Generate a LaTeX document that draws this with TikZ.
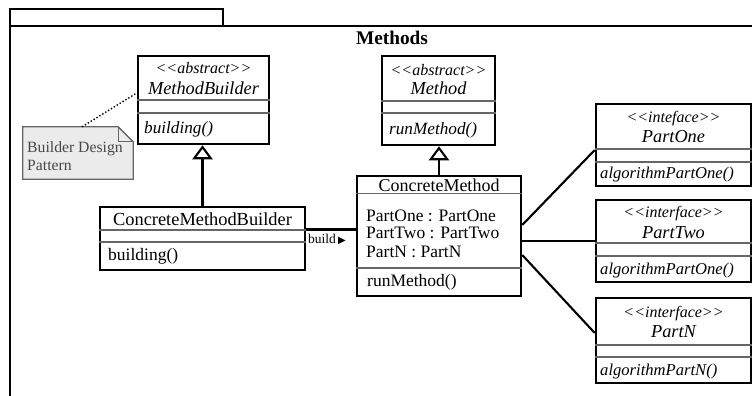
\documentclass[tikz,border=0pt]{standalone}
\usepackage{fontspec}
\setmainfont{Liberation Serif}
\newfontfamily\symfont{DejaVu Sans}
\usetikzlibrary{arrows.meta}

\tikzset{
  classbox/.style={draw, line width=2.5pt, inner sep=0pt},
  divider/.style={draw=black!60, line width=1.3pt},
  lbl/.style={anchor=base, inner sep=0pt, font=\fontsize{17.5}{20}\selectfont},
  lbll/.style={lbl, anchor=base west},
  stereo/.style={anchor=base, inner sep=0pt, font=\fontsize{16}{18}\selectfont\itshape},
  iname/.style={anchor=base, inner sep=0pt, font=\fontsize{18.3}{20}\selectfont\itshape},
  iop/.style={anchor=base west, inner sep=0pt, font=\fontsize{17.2}{20}\selectfont\itshape},
  iopsmall/.style={iop, font=\fontsize{16.6}{20}\selectfont\itshape},
  notetext/.style={anchor=base west, inner sep=0pt, text=black!72, font=\fontsize{15.7}{18}\selectfont},
  link/.style={line width=2.1pt},
  inherit/.style={line width=2.1pt, -{Triangle[open, length=14pt, width=20pt]}},
}

\begin{document}
\begin{tikzpicture}[x=1pt,y=-1pt]
\useasboundingbox (0,0) rectangle (752,396);

% package frame with its tab
\draw[line width=2.3pt] (10,26) -- (10,9) -- (223,9) -- (223,26);
\draw[line width=2.3pt] (10,398) -- (10,26) -- (754,26);
\node[anchor=base, inner sep=0pt, font=\fontsize{19.3}{21}\selectfont\bfseries] (title) at (392,45) {Methods};

% abstract MethodBuilder
\node[classbox, minimum width=131pt, minimum height=88pt] (mb) at (203.5,100) {};
\draw[divider] (mb.west |- 0,100) -- (mb.east |- 0,100);
\draw[divider] (mb.west |- 0,113) -- (mb.east |- 0,113);
\node[stereo] (mbs) at (203.5,74) {<{}<abstract>{}>};
\node[iname] (mbn) at (203.5,95) {MethodBuilder};
\node[iop] (mbo) at (144,133) {building()};

% abstract Method
\node[classbox, minimum width=113pt, minimum height=89pt] (m) at (438.5,100.5) {};
\draw[divider] (m.west |- 0,101) -- (m.east |- 0,101);
\draw[divider] (m.west |- 0,113) -- (m.east |- 0,113);
\node[stereo] (ms) at (438.5,75) {<{}<abstract>{}>};
\node[iname] (mn) at (438.5,95) {Method};
\node[iop] (mo) at (389,134) {runMethod()};

% ConcreteMethodBuilder
\node[classbox, minimum width=205pt, minimum height=63pt] (cmb) at (202.5,238.5) {};
\draw[divider] (cmb.west |- 0,230) -- (cmb.east |- 0,230);
\draw[divider] (cmb.west |- 0,242) -- (cmb.east |- 0,242);
\node[lbl, font=\fontsize{18.4}{20}\selectfont] (cmbn) at (202.5,225) {ConcreteMethodBuilder};
\node[lbll] (cmbo) at (108,260) {building()};

% ConcreteMethod
\node[classbox, minimum width=164pt, minimum height=120pt] (cm) at (439,236) {};
\draw[divider] (cm.west |- 0,193.5) -- (cm.east |- 0,193.5);
\draw[divider] (cm.west |- 0,268) -- (cm.east |- 0,268);
\node[lbl, font=\fontsize{18}{20}\selectfont] (cmn) at (439,191) {ConcreteMethod};
\node[lbll] (cma) at (366,221) {PartOne : PartOne};
\node[lbll] (cmb2) at (366,238.5) {PartTwo : PartTwo};
\node[lbll] (cmc) at (366,257) {PartN : PartN};
\node[lbll] (cmo) at (367,286.5) {runMethod()};

% interface PartOne
\node[classbox, minimum width=155pt, minimum height=82pt] (p1) at (673.5,145) {};
\draw[divider] (p1.west |- 0,149) -- (p1.east |- 0,149);
\draw[divider] (p1.west |- 0,162) -- (p1.east |- 0,162);
\node[stereo] (p1s) at (673.5,122) {<{}<inteface>{}>};
\node[iname] (p1n) at (673.5,142) {PartOne};
\node[iopsmall] (p1o) at (600,178) {algorithmPartOne()};

% interface PartTwo
\node[classbox, minimum width=155pt, minimum height=82pt] (p2) at (673.5,241) {};
\draw[divider] (p2.west |- 0,243) -- (p2.east |- 0,243);
\draw[divider] (p2.west |- 0,256) -- (p2.east |- 0,256);
\node[stereo] (p2s) at (673.5,217) {<{}<interface>{}>};
\node[iname] (p2n) at (673.5,238) {PartTwo};
\node[iopsmall] (p2o) at (600,274) {algorithmPartOne()};

% interface PartN
\node[classbox, minimum width=155pt, minimum height=85pt] (pn) at (673.5,340.5) {};
\draw[divider] (pn.west |- 0,345) -- (pn.east |- 0,345);
\draw[divider] (pn.west |- 0,357) -- (pn.east |- 0,357);
\node[stereo] (pns) at (673.5,317) {<{}<interface>{}>};
\node[iname] (pnn) at (673.5,337) {PartN};
\node[iopsmall] (pno) at (600,375) {algorithmPartN()};

% note attached to MethodBuilder
\node[minimum width=110pt, minimum height=52pt, inner sep=0pt] (note) at (78,153) {};
\filldraw[fill=black!8, draw=black!60, line width=1.3pt]
  (note.north west) -- ([xshift=-15pt]note.north east) -- ([yshift=-15pt]note.north east)
  -- (note.south east) -- (note.south west) -- cycle;
\draw[draw=black!60, line width=1.3pt]
  ([xshift=-15pt]note.north east) -- ([xshift=-15pt,yshift=-15pt]note.north east)
  -- ([yshift=-15pt]note.north east);
\node[notetext] (notea) at (27,152) {Builder Design};
\node[notetext] (noteb) at (27,170.5) {Pattern};
\draw[dotted, line width=1.4pt] ([xshift=4pt]note.north) -- (mb.west |- 0,93);

% generalisations
\draw[inherit] (cmb.north) -- (cmb.north |- mb.south);
\draw[inherit] (cm.north) -- (cm.north |- m.south);

% builder creates the concrete method
\draw[link] (cmb.east |- 0,229.5) -- (cm.west |- 0,229.5);
\node[anchor=base west, inner sep=0pt, font=\fontsize{13.5}{15}\selectfont] (buildlbl) at (308,243)
  {build\,{\symfont\fontsize{10}{11}\selectfont ▶}};

% associations to the parts
\draw[link] (cm.east |- 0,225) -- (p1.west |- 0,150);
\draw[link] (cm.east |- 0,241) -- (p2.west |- 0,241);
\draw[link] (cm.east |- 0,255) -- (pn.west |- 0,333);
\end{tikzpicture}
\end{document}
